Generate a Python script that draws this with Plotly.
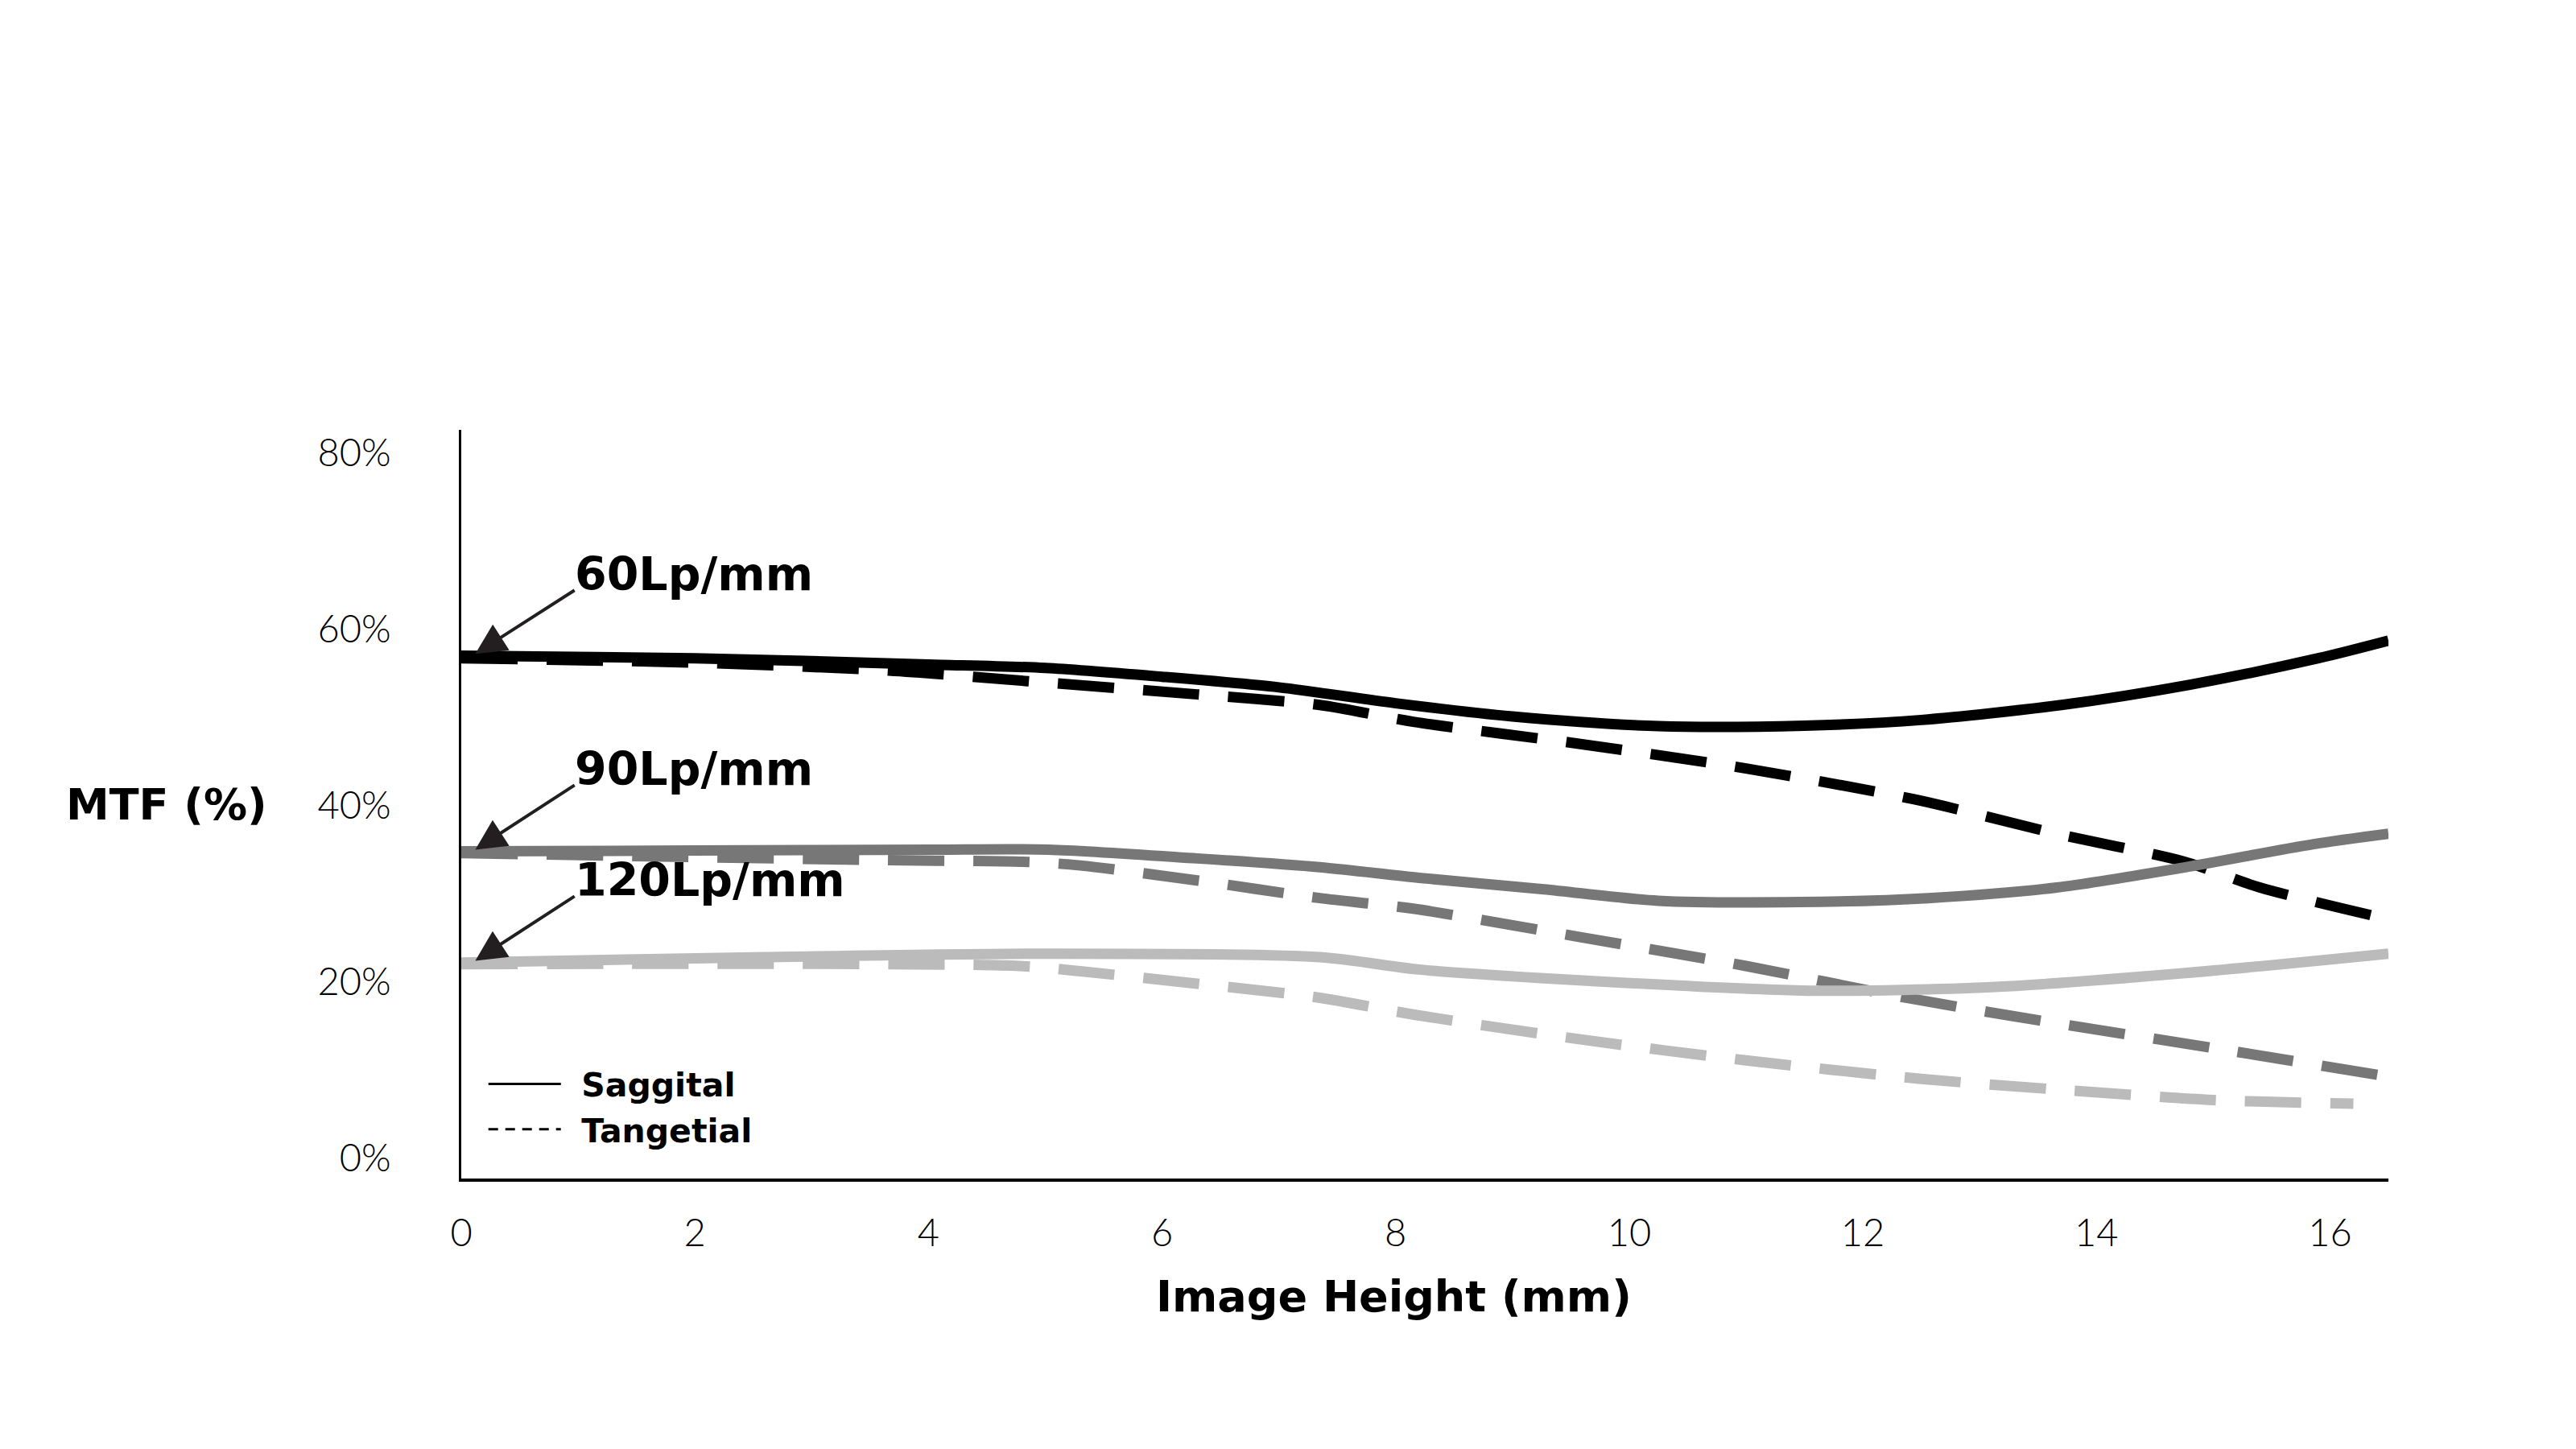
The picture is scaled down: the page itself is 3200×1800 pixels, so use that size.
import plotly.graph_objects as go

# image height (mm) and MTF (%)
x_s60 = [0, 2, 4, 5, 6, 7, 8, 9, 10.25, 11.5, 12.5, 13.7, 14.8, 15.9, 16.5]
y_s60 = [57.0, 56.7, 56.0, 55.6, 54.6, 53.4, 51.6, 50.1, 49.0, 49.05, 49.7, 51.4, 53.7, 56.7, 58.7]

x_t60 = [0, 2, 3.66, 4.85, 6.3, 7.35, 8.15, 9.57, 11.0, 12.44, 13.66, 14.76, 15.4, 16.5]
y_t60 = [56.7, 56.2, 55.3, 54.1, 52.6, 51.4, 49.5, 47.0, 44.2, 40.7, 36.8, 33.6, 30.7, 27.1]

x_s90 = [0, 2, 4, 5.03, 6.3, 7.35, 8.2, 9.27, 10.25, 11.46, 12.56, 13.66, 14.76, 15.85, 16.5]
y_s90 = [34.8, 34.9, 35.0, 35.0, 34.0, 33.0, 31.8, 30.5, 29.2, 29.05, 29.5, 30.7, 33.0, 35.6, 36.8]

x_t90 = [0, 3.66, 4.85, 5.3, 6.3, 7.35, 8.15, 9.57, 11.0, 12.37, 13.66, 15.0, 16.5]
y_t90 = [34.6, 33.8, 33.6, 33.2, 31.5, 29.5, 28.3, 25.1, 21.8, 18.2, 15.3, 12.5, 9.25]

x_s120 = [0, 2.6, 5.03, 7.35, 8.2, 9.27, 10.4, 11.6, 13.1, 14.76, 16.5]
y_s120 = [22.2, 22.8, 23.2, 22.8, 21.4, 20.4, 19.6, 19.0, 19.4, 21.0, 23.2]

x_t120 = [0, 4.78, 5.3, 6.3, 7.35, 8.15, 9.57, 11.0, 12.5, 13.66, 15.0, 16.2]
y_t120 = [22.0, 21.8, 21.2, 19.8, 18.2, 16.3, 13.5, 11.1, 9.0, 7.8, 6.6, 6.2]

freq_labels = ["60Lp/mm", "90Lp/mm", "120Lp/mm"]
y_ticks = [0, 20, 40, 60, 80]
y_ticktext = ["0%", "20%", "40%", "60%", "80%"]
x_ticks = [0, 2, 4, 6, 8, 10, 12, 14, 16]

BLACK = "#000000"
MID = "#777777"
LIGHT = "#bbbbbb"
DASH = "70px,36px"
BOLD = "DejaVu Sans"
THIN = "Lato"

fig = go.Figure()

series = [
    (x_s60, y_s60, BLACK, "solid"),
    (x_t60, y_t60, BLACK, DASH),
    (x_s90, y_s90, MID, "solid"),
    (x_t90, y_t90, MID, DASH),
    (x_s120, y_s120, LIGHT, "solid"),
    (x_t120, y_t120, LIGHT, DASH),
]
for xs, ys, col, dash in series:
    fig.add_trace(go.Scatter(
        x=xs, y=ys, mode="lines", showlegend=False, hoverinfo="skip",
        line=dict(color=col, width=13, dash=dash, shape="spline", smoothing=0.8),
    ))

# legend keys
fig.add_trace(go.Scatter(x=[None], y=[None], mode="lines", name="\u2002Saggital",
                         line=dict(color=BLACK, width=3)))
fig.add_trace(go.Scatter(x=[None], y=[None], mode="lines", name="\u2002Tangetial",
                         line=dict(color=BLACK, width=3, dash="12px,9px")))

# arrows + frequency labels
starts = [y_s60[0], y_s90[0], y_s120[0]]
label_y = [66.3, 44.2, 31.6]
for lab, y0, ly in zip(freq_labels, starts, label_y):
    fig.add_annotation(x=0.12, y=y0 + 0.2, ax=0.98, ay=ly - 1.8, axref="x", ayref="y",
                       xref="x", yref="y", text="", showarrow=True,
                       arrowhead=2, arrowsize=1.9, arrowwidth=4, arrowcolor="#231f20")
    fig.add_annotation(x=0.96, y=ly, xref="x", yref="y", text=lab, showarrow=False,
                       xanchor="left", yanchor="middle",
                       font=dict(family=BOLD, size=57, color=BLACK, weight="bold"))

fig.add_annotation(x=-0.153, y=0.5, xref="paper", yref="paper", text="MTF (%)",
                   showarrow=False, xanchor="center", yanchor="middle",
                   font=dict(family=BOLD, size=54, color=BLACK, weight="bold"))
fig.add_annotation(x=0.484, y=-0.157, xref="paper", yref="paper", text="Image Height (mm)",
                   showarrow=False, xanchor="center", yanchor="middle",
                   font=dict(family=BOLD, size=54, color=BLACK, weight="bold"))

fig.update_layout(
    width=3200, height=1800,
    paper_bgcolor="white", plot_bgcolor="white",
    margin=dict(l=565, r=241, t=526, b=344),
    font=dict(family=THIN, color=BLACK),
    legend=dict(x=0.012, y=0.162, xanchor="left", yanchor="top",
                bgcolor="rgba(0,0,0,0)", font=dict(family=BOLD, size=41, weight="bold"),
                itemwidth=90, tracegroupgap=0),
    xaxis=dict(range=[0, 16.5], tickvals=x_ticks, showgrid=False, zeroline=False,
               showline=True, linecolor=BLACK, linewidth=4, ticks="",
               ticklabelstandoff=24, tickfont=dict(family=THIN, size=47, weight=300)),
    yaxis=dict(range=[-2.3, 82.6], tickvals=y_ticks, ticktext=y_ticktext, showgrid=False,
               zeroline=False, showline=True, linecolor=BLACK, linewidth=3, ticks="",
               ticklabelstandoff=75, tickfont=dict(family=THIN, size=47, weight=300)),
)

fig.write_html("out.html")
